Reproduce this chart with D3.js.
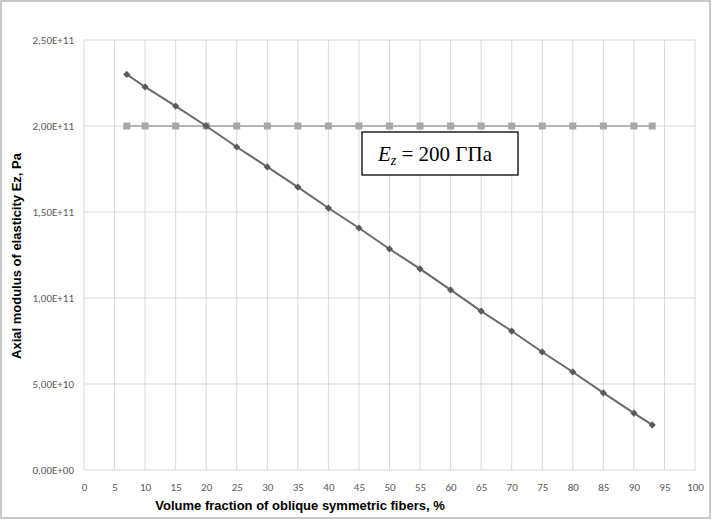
<!DOCTYPE html>
<html><head><meta charset="utf-8">
<script src="https://cdn.jsdelivr.net/npm/d3@7"></script>
<style>body{margin:0;background:#fff}svg{display:block}</style>
</head><body>
<script>
const xValues = [7,10,15,20,25,30,35,40,45,50,55,60,65,70,75,80,85,90,93];
const ezOblique = [2.30e11,2.227e11,2.116e11,2.0e11,1.878e11,1.762e11,1.645e11,1.523e11,1.407e11,1.285e11,1.169e11,1.047e11,0.924e11,0.808e11,0.686e11,0.570e11,0.448e11,0.331e11,0.262e11];
const ezConst = [2e11,2e11,2e11,2e11,2e11,2e11,2e11,2e11,2e11,2e11,2e11,2e11,2e11,2e11,2e11,2e11,2e11,2e11,2e11];
const xTicks = [0,5,10,15,20,25,30,35,40,45,50,55,60,65,70,75,80,85,90,95,100];
const yTicks = [0,5e10,1e11,1.5e11,2e11,2.5e11];
const yTickLabels = ["0,00E+00","5,00E+10","1,00E+11","1,50E+11","2,00E+11","2,50E+11"];

const W=715,H=520;
const svg=d3.select("body").append("svg").attr("width",W).attr("height",H);
svg.append("rect").attr("x",1).attr("y",1).attr("width",W-6).attr("height",H-3)
  .attr("fill","#fff").attr("stroke","#c8c8c8").attr("stroke-width",2);

const x=d3.scaleLinear().domain([0,100]).range([84,695]);
const y=d3.scaleLinear().domain([0,2.5e11]).range([470,40]);

const g=svg.append("g");
g.selectAll(".vg").data(xTicks).join("line").attr("x1",d=>x(d)).attr("x2",d=>x(d))
 .attr("y1",y(0)).attr("y2",y(2.5e11)).attr("stroke","#d9d9d9").attr("stroke-width",1);
g.selectAll(".hg").data(yTicks).join("line").attr("x1",x(0)).attr("x2",x(100))
 .attr("y1",d=>y(d)).attr("y2",d=>y(d)).attr("stroke","#d9d9d9").attr("stroke-width",1);

const xa=svg.append("g").attr("transform",`translate(0,${y(0)})`)
 .call(d3.axisBottom(x).tickValues(xTicks).tickSize(0).tickPadding(13).tickFormat(d3.format("d")));
xa.select(".domain").remove();
xa.selectAll("text").attr("font-family","Carlito, Liberation Sans, sans-serif").attr("font-size",11).attr("fill","#595959");
const ya=svg.append("g").attr("transform",`translate(${x(0)},0)`)
 .call(d3.axisLeft(y).tickValues(yTicks).tickSize(0).tickPadding(10).tickFormat((d,i)=>yTickLabels[i]));
ya.select(".domain").remove();
ya.selectAll("text").attr("font-family","Carlito, Liberation Sans, sans-serif").attr("font-size",11).attr("fill","#595959");

const line=d3.line().x((d,i)=>x(xValues[i])).y(d=>y(d));
svg.append("path").datum(ezConst).attr("d",line).attr("fill","none").attr("stroke","#b4b4b4").attr("stroke-width",2.2);
svg.selectAll(".sq").data(ezConst).join("rect")
 .attr("x",(d,i)=>x(xValues[i])-3.5).attr("y",d=>y(d)-3.5).attr("width",7).attr("height",7)
 .attr("fill","#a8a8a8");
svg.append("path").datum(ezOblique).attr("d",line).attr("fill","none").attr("stroke","#6a6a6a").attr("stroke-width",2);
svg.selectAll(".dm").data(ezOblique).join("path")
 .attr("d",d3.symbol(d3.symbolSquare,26))
 .attr("transform",(d,i)=>`translate(${x(xValues[i])},${y(d)}) rotate(45)`)
 .attr("fill","#5a5a5a");

svg.append("rect").attr("x",362).attr("y",132).attr("width",156).attr("height",43)
 .attr("fill","#fff").attr("stroke","#000").attr("stroke-width",1.3);
const t=svg.append("text").attr("x",378).attr("y",161).attr("font-family","Liberation Serif, Times New Roman, serif").attr("font-size",21).attr("fill","#000");
t.append("tspan").attr("font-style","italic").text("E");
t.append("tspan").attr("font-style","italic").attr("font-size",14).attr("dy",4).text("z");
t.append("tspan").attr("dy",-4).text(" = 200 ГПа");

svg.append("text").attr("x",300).attr("y",510).attr("text-anchor","middle")
 .attr("font-family","Liberation Sans, Arial, sans-serif").attr("font-weight","bold").attr("font-size",13).attr("fill","#000")
 .text("Volume fraction of oblique symmetric fibers, %");
svg.append("text").attr("transform","translate(21,256) rotate(-90)").attr("text-anchor","middle")
 .attr("font-family","Liberation Sans, Arial, sans-serif").attr("font-weight","bold").attr("font-size",13).attr("fill","#000")
 .text("Axial modulus of elasticity Ez, Pa");
</script>
</body></html>
